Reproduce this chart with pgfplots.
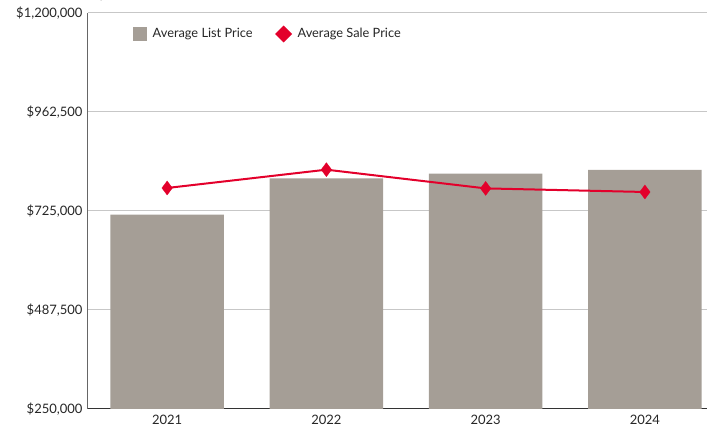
\documentclass[border=0pt]{standalone}
\usepackage{pgfplots}
\pgfplotsset{compat=1.18}
\usepackage{fontspec}
\setmainfont{Lato}
\definecolor{barc}{HTML}{A59E96}
\definecolor{redc}{HTML}{E3002B}
\begin{document}
\begin{tikzpicture}
\begin{axis}[
  scale only axis,
  width=619pt, height=396pt,
  xmin=-0.497, xmax=3.39,
  ymin=250000, ymax=1200000,
  ytick={250000,487500,725000,962500,1200000},
  yticklabels={{\$250,000},{\$487,500},{\$725,000},{\$962,500},{\$1,200,000}},
  xtick={0,1,2,3},
  xticklabels={2021,2022,2023,2024},
  axis x line*=bottom, axis y line*=left,
  x axis line style={draw=black!80, line width=1pt, -},
  y axis line style={draw=black!60, line width=1pt, -},
  major tick length=0pt,
  ymajorgrids, grid style={draw=black!22, line width=1pt},
  tick label style={font=\fontsize{13}{15}\selectfont, text=black!85},
  yticklabel style={xshift=-2pt},
  xticklabel style={yshift=-3pt},
  legend style={draw=none, fill=none, at={(0.067,0.947)}, anchor=west,
    font=\fontsize{12.8}{15}\selectfont, text=black!85,
    legend columns=2,
    /tikz/every odd column/.append style={column sep=4pt},
    /tikz/every even column/.append style={column sep=21pt}},
  legend cell align=left,
  clip=false,
]
\addplot[ybar, bar width=113.3pt, fill=barc, draw=none,
  legend image code/.code={\fill[barc] (0pt,-7pt) rectangle (14pt,7pt);}]
  coordinates {(0,716100) (1,803200) (2,814500) (3,823400)};
\addlegendentry{Average List Price}
\addplot[redc, line width=2pt, mark=diamond*, mark size=7pt, mark options={fill=redc, draw=redc, line width=0.3pt},
  legend image code/.code={\fill[redc] (7pt,-7pt) -- (14pt,0pt) -- (7pt,7pt) -- (0pt,0pt) -- cycle;}]
  coordinates {(0,780200) (1,824100) (2,779200) (3,770600)};
\addlegendentry{Average Sale Price}
\end{axis}
\pgfresetboundingbox
\path (current axis.south west) ++(-88pt,-26pt) coordinate (bl);
\path (current axis.north east) ++(0pt,13pt) coordinate (tr);
\useasboundingbox (bl) rectangle (tr);
\end{tikzpicture}
\end{document}
